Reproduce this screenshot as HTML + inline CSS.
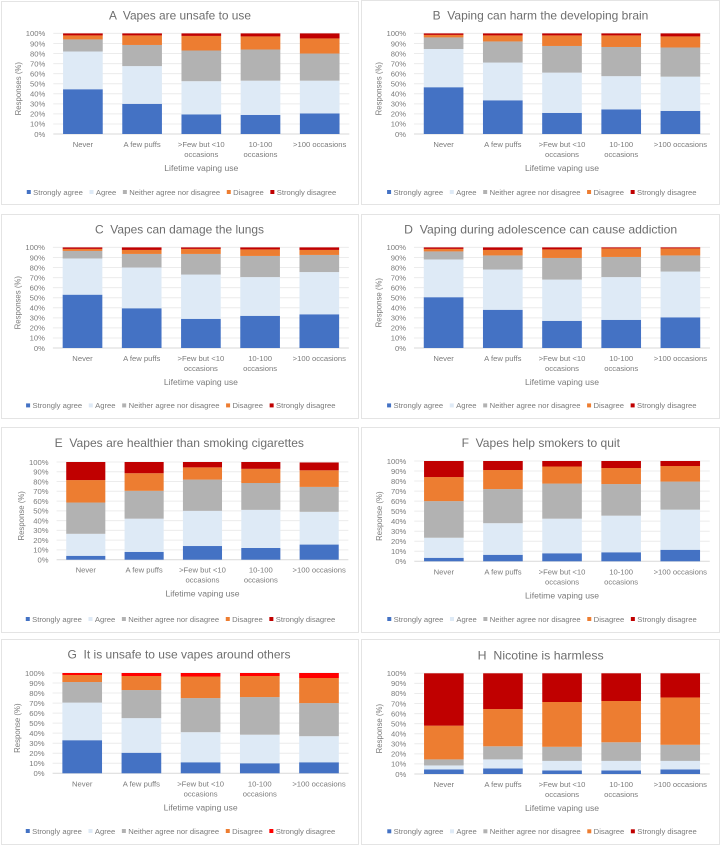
<!DOCTYPE html>
<html lang="en">
<head>
<meta charset="utf-8">
<title>Vaping beliefs by lifetime vaping use</title>
<style>
html,body{margin:0;padding:0;background:#fff;width:720px;height:845px;overflow:hidden}
svg{display:block;filter:blur(0.3px)}
text{font-family:"Liberation Sans",sans-serif;fill:#7b7b7b;font-size:7.65px;white-space:pre}
.title{font-size:12px;fill:#6e6e6e;text-anchor:middle}
</style>
</head>
<body>
<svg id="figure" width="720" height="845" viewBox="0 0 720 845" xmlns="http://www.w3.org/2000/svg"></svg>
<script>
const categories = ['Never', 'A few puffs', '>Few but <10\noccasions', '10-100\noccasions', '>100 occasions'];
const seriesNames = ['Strongly agree', 'Agree', 'Neither agree nor disagree', 'Disagree', 'Strongly disagree'];
const tickLabels = ['0%', '10%', '20%', '30%', '40%', '50%', '60%', '70%', '80%', '90%', '100%'];
const tickValues = [0, 10, 20, 30, 40, 50, 60, 70, 80, 90, 100];
const xAxisTitle = 'Lifetime vaping use';

const aStronglyAgree = [44.5, 30, 19.5, 19, 20.5];
const aAgree = [37.5, 37.5, 33, 34, 32.5];
const aNeither = [12, 21, 30.5, 31, 27];
const aDisagree = [4, 9.5, 14.5, 13, 15];
const aStronglyDisagree = [2, 2, 2.5, 3, 5];

const bStronglyAgree = [46.5, 33.5, 21, 24.5, 23];
const bAgree = [38, 37.5, 40, 33, 34];
const bNeither = [11.5, 21, 26.5, 29, 29];
const bDisagree = [2.5, 6, 10.5, 11.5, 11];
const bStronglyDisagree = [1.5, 2, 2, 2, 3];

const cStronglyAgree = [53, 39.5, 29, 32, 33.5];
const cAgree = [36, 40.5, 44, 38.5, 42];
const cNeither = [7.5, 13.5, 20.5, 21, 17];
const cDisagree = [2, 4, 5, 6.5, 5];
const cStronglyDisagree = [1.5, 2.5, 1.5, 2, 2.5];

const dStronglyAgree = [50.5, 38, 27, 28, 30.5];
const dAgree = [37.5, 40, 41, 42.5, 45.5];
const dNeither = [8, 14, 21.5, 20, 16];
const dDisagree = [2.5, 5.5, 8.5, 8.5, 7];
const dStronglyDisagree = [1.5, 2.5, 2, 1, 1];

const eStronglyAgree = [4, 8, 14, 12, 15.5];
const eAgree = [22.5, 34, 36, 39, 33.5];
const eNeither = [32, 28.5, 32, 27.5, 25.5];
const eDisagree = [23, 18, 12.5, 14.5, 17];
const eStronglyDisagree = [18.5, 11.5, 5.5, 7, 8];

const fStronglyAgree = [3.5, 6.5, 8, 9, 11.5];
const fAgree = [20, 31.5, 34.5, 36.5, 40];
const fNeither = [36.5, 34, 35, 31.5, 28];
const fDisagree = [24, 19, 17, 16, 15.5];
const fStronglyDisagree = [16, 9, 5.5, 7, 5];

const gStronglyAgree = [33, 20.5, 11, 10, 11];
const gAgree = [37.5, 34.5, 30, 28.5, 26];
const gNeither = [20.5, 28, 34, 37.5, 33];
const gDisagree = [7, 14, 21.5, 21, 25];
const gStronglyDisagree = [2, 3, 3.5, 3, 5];

const hStronglyAgree = [4.5, 5.5, 3.5, 3.5, 4.5];
const hAgree = [4, 9, 9.5, 9.5, 8.5];
const hNeither = [6, 13, 14, 18.5, 16];
const hDisagree = [33.5, 37, 44.5, 41, 47];
const hStronglyDisagree = [52, 35.5, 28.5, 27.5, 24];

const panels = [
  {id:'a', title:'A  Vapes are unsafe to use', titleW:142, yTitle:'Responses (%)', frame:[1,1,357,203], left:53.3, step:59.2, top:33.4, bottom:134, titleX:180, titleY:15, legendX:181.5, legendY:192, last:'#c00000',
   series:[aStronglyAgree, aAgree, aNeither, aDisagree, aStronglyDisagree]},
  {id:'b', title:'B  Vaping can harm the developing brain', titleW:215.7, yTitle:'Responses (%)', frame:[361,0,358,204], left:414, step:59.2, top:33.4, bottom:134, titleX:540.5, titleY:15, legendX:541.8, legendY:192, last:'#c00000',
   series:[bStronglyAgree, bAgree, bNeither, bDisagree, bStronglyDisagree]},
  {id:'c', title:'C  Vapes can damage the lungs', titleW:169, yTitle:'Responses (%)', frame:[1,214,357,204], left:52.9, step:59.2, top:247.4, bottom:348, titleX:179.5, titleY:229, legendX:180.8, legendY:405.4, last:'#c00000',
   series:[cStronglyAgree, cAgree, cNeither, cDisagree, cStronglyDisagree]},
  {id:'d', title:'D  Vaping during adolescence can cause addiction', titleW:273, yTitle:'Response (%)', frame:[361,214,358,204], left:414, step:59.2, top:247.4, bottom:348, titleX:540.7, titleY:229, legendX:541.8, legendY:405.4, last:'#c00000',
   series:[dStronglyAgree, dAgree, dNeither, dDisagree, dStronglyDisagree]},
  {id:'e', title:'E  Vapes are healthier than smoking cigarettes', titleW:249.3, yTitle:'Response (%)', frame:[1,427,357,205], left:56.6, step:58.35, top:462, bottom:559.7, titleX:179.3, titleY:442.7, legendX:180.5, legendY:619, last:'#c00000',
   series:[eStronglyAgree, eAgree, eNeither, eDisagree, eStronglyDisagree]},
  {id:'f', title:'F  Vapes help smokers to quit', titleW:158.3, yTitle:'Response (%)', frame:[361,427,358,205], left:414.3, step:59.1, top:461, bottom:561.3, titleX:540.8, titleY:442.7, legendX:542, legendY:619, last:'#c00000',
   series:[fStronglyAgree, fAgree, fNeither, fDisagree, fStronglyDisagree]},
  {id:'g', title:'G  It is unsafe to use vapes around others', titleW:223, yTitle:'Response (%)', frame:[1,639,357,205], left:52.6, step:59.2, top:673, bottom:773.3, titleX:179, titleY:654.3, legendX:180.5, legendY:831, last:'#ff0000',
   series:[gStronglyAgree, gAgree, gNeither, gDisagree, gStronglyDisagree]},
  {id:'h', title:'H  Nicotine is harmless', titleW:126, yTitle:'Response (%)', frame:[361,639,358,205], left:414.3, step:59.1, top:673.3, bottom:774, titleX:540.7, titleY:655, legendX:542, legendY:831.3, last:'#c00000',
   series:[hStronglyAgree, hAgree, hNeither, hDisagree, hStronglyDisagree]}
];

const NS = 'http://www.w3.org/2000/svg';
const baseColors = ['#4472c4', '#deeaf6', '#b2b2b2', '#ed7d31'];
const BAR_RATIO = 0.67;
const svgRoot = document.getElementById('figure');

function make(tag, parent, attrs) {
  const el = document.createElementNS(NS, tag);
  for (const key in attrs) el.setAttribute(key, attrs[key]);
  parent.appendChild(el);
  return el;
}

function drawPanel(p) {
  const yScale = v => p.bottom - (v / 100) * (p.bottom - p.top);
  const xBand = i => p.left + i * p.step;
  const right = p.left + p.step * categories.length;
  const colors = baseColors.concat([p.last]);

  const g = make('g', svgRoot, {});
  
  

  const frame = make('rect', g, {x:p.frame[0] + 0.5, y:p.frame[1] + 0.5, width:p.frame[2], height:p.frame[3], fill:'#fff', stroke:'#e4e4e4', 'stroke-width':1});
  
  

  const title = make('text', g, {x:p.titleX, y:p.titleY + 4.3, class:'title', textLength:p.titleW, lengthAdjust:'spacingAndGlyphs'});
  title.textContent = p.title;
  
  

  tickValues.forEach((v, i) => {
    const grid = make('line', g, {x1:p.left, x2:right, y1:yScale(v), y2:yScale(v), stroke: v === 0 ? '#d9d9d9' : '#ececec', 'stroke-width':1});
    
    
    const label = make('text', g, {x:p.left - 8, y:yScale(v) + 2.8, 'text-anchor':'end'});
    label.textContent = tickLabels[i];
    
    
  });

  const yTitleX = p.left - 32.5;
  const yTitleY = (p.top + p.bottom) / 2 + 5;
  const yTitle = make('text', g, {x:yTitleX, y:yTitleY, 'text-anchor':'middle', transform:'rotate(-90 ' + yTitleX + ' ' + yTitleY + ')', style:'font-size:7.8px'});
  yTitle.textContent = p.yTitle;
  
  

  categories.forEach((cat, i) => {
    const barW = p.step * BAR_RATIO;
    const barX = xBand(i) + (p.step - barW) / 2;
    let running = 0;
    p.series.forEach((values, s) => {
      const y0 = yScale(running);
      const y1 = yScale(running + values[i]);
      running += values[i];
      const seg = make('rect', g, {x:barX, y:y1, width:barW, height:y0 - y1, fill:colors[s]});
      
      
    });
    cat.split('\n').forEach((line, k) => {
      const t = make('text', g, {x:xBand(i) + p.step / 2, y:p.bottom + 13 + k * 10, 'text-anchor':'middle'});
      t.textContent = line;
      
      
    });
  });

  const xTitle = make('text', g, {x:(p.left + right) / 2, y:p.bottom + 37, 'text-anchor':'middle', style:'font-size:8.6px'});
  xTitle.textContent = xAxisTitle;
  
  

  const legend = make('g', g, {});
  
  
  const entries = seriesNames.map((name, s) => {
    const swatch = make('rect', legend, {y:p.legendY - 2, width:4, height:4, fill:colors[s]});
    
    
    const label = make('text', legend, {y:p.legendY + 2.8});
    label.textContent = name;
    
    
    return {swatch, label, width:label.getComputedTextLength()};
  });
  const total = entries.reduce((sum, e) => sum + 6.4 + e.width + 6.6, -6.6);
  let cursor = p.legendX - total / 2;
  entries.forEach(e => {
    e.swatch.setAttribute('x', cursor);
    e.label.setAttribute('x', cursor + 6.4);
    cursor += 6.4 + e.width + 6.6;
  });
}

panels.forEach(drawPanel);
</script>
</body>
</html>
